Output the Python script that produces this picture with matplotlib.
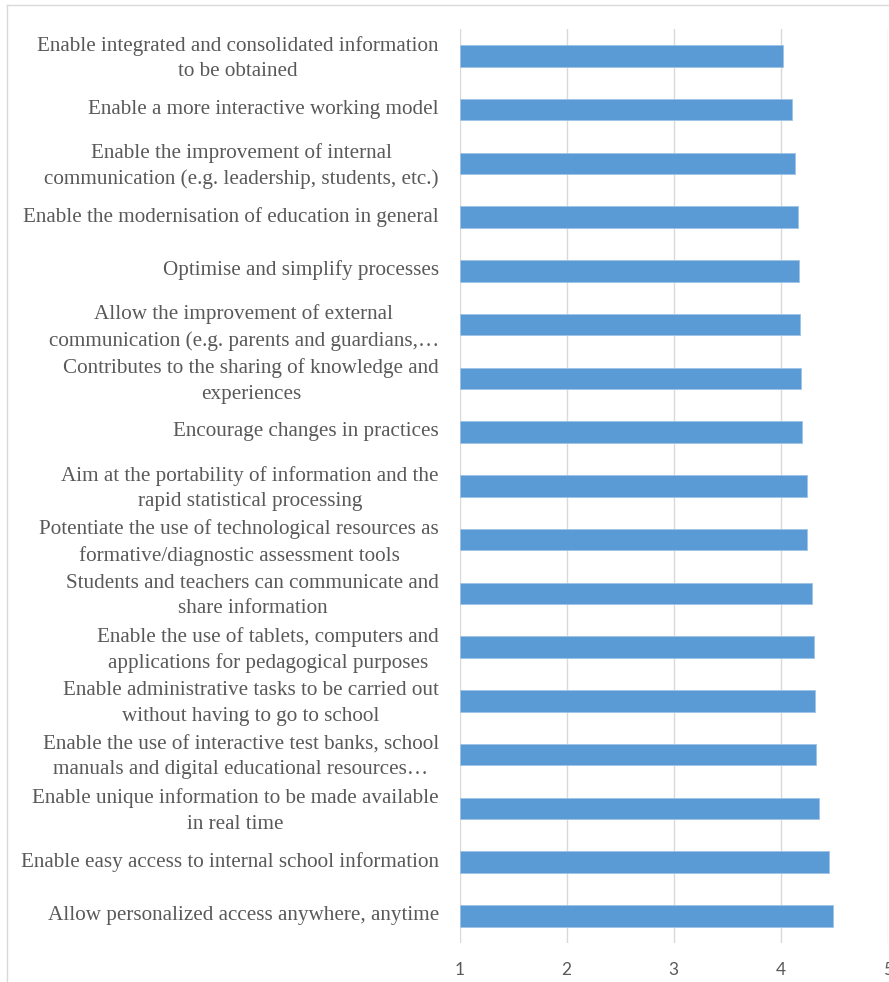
import matplotlib.pyplot as plt
import matplotlib.transforms as mtransforms
from matplotlib.lines import Line2D

# === DATA (top to bottom, as in the chart) ===
labels = [
    "Enable integrated and consolidated information\nto be obtained",
    "Enable a more interactive working model",
    "Enable the improvement of internal\ncommunication (e.g. leadership, students, etc.)",
    "Enable the modernisation of education in general",
    "Optimise and simplify processes",
    "Allow the improvement of external\ncommunication (e.g. parents and guardians,…",
    "Contributes to the sharing of knowledge and\nexperiences",
    "Encourage changes in practices",
    "Aim at the portability of information and the\nrapid statistical processing",
    "Potentiate the use of technological resources as\nformative/diagnostic assessment tools",
    "Students and teachers can communicate and\nshare information",
    "Enable the use of tablets, computers and\napplications for pedagogical purposes",
    "Enable administrative tasks to be carried out\nwithout having to go to school",
    "Enable the use of interactive test banks, school\nmanuals and digital educational resources…",
    "Enable unique information to be made available\nin real time",
    "Enable easy access to internal school information",
    "Allow personalized access anywhere, anytime",
]
scores = [4.02, 4.11, 4.13, 4.16, 4.17, 4.18, 4.19, 4.20, 4.25, 4.25,
          4.29, 4.31, 4.32, 4.33, 4.36, 4.45, 4.49]
x_ticks = [1, 2, 3, 4, 5]

BAR_COLOR = "#5B9BD5"
GRID_COLOR = "#D9D9D9"
TEXT_COLOR = "#595959"

W, H = 889, 982
fig = plt.figure(figsize=(W / 100, H / 100), dpi=100)
ax = fig.add_axes([459.7 / W, 1 - 942.7 / H, 428 / W, 913.7 / H])

pos = list(range(len(labels)))
ax.barh(pos, [s - 1 for s in scores], left=1, height=0.4,
        color=BAR_COLOR, edgecolor="#9DC3E6", linewidth=0.6, zorder=3)

ax.set_xlim(1, 5)
ax.set_ylim(len(labels) - 0.5, -0.5)
ax.set_xticks(x_ticks)
ax.set_xticklabels([str(t) for t in x_ticks], family="Lato", fontsize=12.5, color=TEXT_COLOR)
ax.set_yticks(pos)
ax.set_yticklabels(labels, family="Liberation Serif", fontsize=15.2, color=TEXT_COLOR,
                   multialignment="center", linespacing=1.45)
ax.tick_params(axis="both", length=0)
ax.tick_params(axis="x", pad=14)
ax.tick_params(axis="y", pad=15)
ax.grid(axis="x", color=GRID_COLOR, linewidth=1.0, zorder=0)
ax.grid(axis="y", visible=False)
for sp in ax.spines.values():
    sp.set_visible(False)

# nudge category labels up a little, like the original
shift = mtransforms.ScaledTranslation(0, 3 / 100, fig.dpi_scale_trans)
for lbl in ax.get_yticklabels():
    lbl.set_transform(lbl.get_transform() + shift)

# chart-area frame (cut off on the right and bottom)
fig.add_artist(Line2D([7 / W, 1.0], [1 - 5 / H, 1 - 5 / H], color=GRID_COLOR, lw=1.0))
fig.add_artist(Line2D([7 / W, 7 / W], [0.0, 1 - 5 / H], color=GRID_COLOR, lw=1.0))

fig.savefig("out.png", dpi=100, facecolor="white")
